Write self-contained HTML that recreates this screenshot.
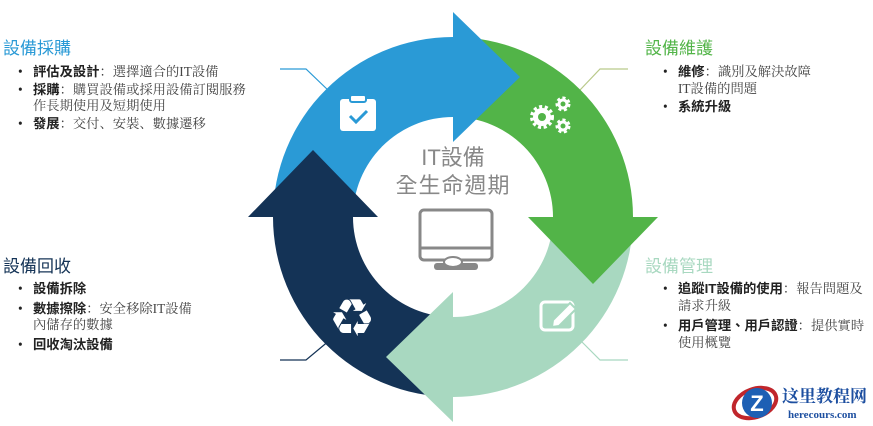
<!DOCTYPE html>
<html><head><meta charset="utf-8"><style>
body{margin:0;width:873px;height:426px;background:#fff;overflow:hidden;position:relative;font-family:"Liberation Serif","Noto Serif CJK SC","Noto Sans CJK TC",serif;}
.t{position:absolute;font-family:"Liberation Sans","Noto Sans CJK TC",sans-serif;font-size:17px;}
ul{position:absolute;margin:0;padding:0;list-style:none;font-size:13.3px;color:#444;line-height:16.5px;}
li{position:relative;padding-left:15px;margin-bottom:1px;}
li:before{content:"•";position:absolute;left:0;color:#222;}
b{font-family:"Liberation Sans","Noto Sans CJK TC",sans-serif;color:#222;}
</style></head><body>
<svg width="873" height="426" style="position:absolute;left:0;top:0">
<g fill="none" stroke-width="1.2">
<polyline points="280,69 306,69 330,92" stroke="#2a9ad6"/>
<polyline points="628,69 600,69 580,90" stroke="#b9c98a"/>
<polyline points="280,360 306,360 330,340" stroke="#143356"/>
<polyline points="628,360 600,360 580,340" stroke="#a8d8c0"/>
</g>
<path d="M273,217 A180,180 0 0 1 453,37 L453,117 A100,100 0 0 0 353,217 Z" fill="#2a9ad6"/>
<path d="M453,37 A180,180 0 0 1 633,217 L553,217 A100,100 0 0 0 453,117 Z" fill="#52b448"/>
<path d="M633,217 A180,180 0 0 1 453,397 L453,317 A100,100 0 0 0 553,217 Z" fill="#a8d8c0"/>
<path d="M453,397 A180,180 0 0 1 273,217 L353,217 A100,100 0 0 0 453,317 Z" fill="#143356"/>
<polygon points="453,12 453,142 520,77" fill="#2a9ad6"/>
<polygon points="658,217 528,217 593,284" fill="#52b448"/>
<polygon points="453,422 453,292 386,357" fill="#a8d8c0"/>
<polygon points="248,217 378,217 313,150" fill="#143356"/>
<g fill="none" stroke="#fff" stroke-width="3">
<rect x="340" y="99" width="36" height="32" rx="3" fill="#fff" stroke="none"/>
<rect x="350" y="95" width="16" height="7" rx="2" fill="#fff" stroke="#2a9ad6" stroke-width="2"/>
<polyline points="350,116 356,122 367,111" stroke="#2a9ad6"/>
<rect x="541" y="302" width="32" height="28" rx="4"/>
<path d="M553,320 L570,303 L576,309 L559,326 L552,327 Z" fill="#fff" stroke="#a8d8c0" stroke-width="2"/>
</g>
<g fill="none" stroke="#fff" stroke-dasharray="3 2.5">
<circle cx="542" cy="117" r="10" stroke-width="4"/><circle cx="563" cy="104" r="6" stroke-width="3"/><circle cx="563" cy="126" r="6" stroke-width="3"/>
</g>
<g fill="#fff"><circle cx="542" cy="117" r="9"/><circle cx="563" cy="104" r="5.5"/><circle cx="563" cy="126" r="5.5"/></g>
<g fill="#52b448"><circle cx="542" cy="117" r="4"/><circle cx="563" cy="104" r="2.5"/><circle cx="563" cy="126" r="2.5"/></g>
<text x="352" y="336" font-size="52" fill="#fff" text-anchor="middle" font-family="DejaVu Sans">♻</text>
<g stroke="#888" fill="none" stroke-width="3">
<rect x="420" y="210" width="72" height="50" rx="4"/>
<line x1="420" y1="248" x2="492" y2="248"/>
</g>
<rect x="434" y="263" width="44" height="7" rx="3" fill="#888"/>
<ellipse cx="453" cy="262" rx="9" ry="5" fill="#fff" stroke="#888" stroke-width="2"/>
<text x="453" y="165" font-size="22" fill="#888" text-anchor="middle" font-family="Liberation Sans,Noto Sans CJK TC,sans-serif">IT設備</text>
<text x="453" y="193" font-size="22" fill="#888" text-anchor="middle" font-family="Liberation Sans,Noto Sans CJK TC,sans-serif" letter-spacing="1">全生命週期</text>
<ellipse cx="755" cy="403" rx="22" ry="14" fill="none" stroke="#c0262c" stroke-width="4" transform="rotate(-20 755 403)"/>
<circle cx="757" cy="403" r="15" fill="#1d5fb4"/>
<text x="757" y="411" font-size="22" fill="#fff" text-anchor="middle" font-weight="bold" font-family="Liberation Sans">Z</text>
<text x="782" y="402" font-size="17" fill="#1d4fa0" font-weight="bold" font-family="Noto Serif CJK SC,serif">这里教程网</text>
<text x="788" y="418" font-size="11" fill="#1d4fa0" font-weight="bold" font-family="Liberation Serif">herecours.com</text>
</svg>
<div class="t" style="left:3px;top:34px;color:#2a9ad6">設備採購</div>
<ul style="left:18px;top:64px;width:260px">
<li><b>評估及設計</b>：選擇適合的IT設備</li>
<li><b>採購</b>：購買設備或採用設備訂閱服務<br>作長期使用及短期使用</li>
<li><b>發展</b>：交付、安裝、數據遷移</li>
</ul>
<div class="t" style="left:645px;top:34px;color:#52b448">設備維護</div>
<ul style="left:663px;top:64px;width:210px">
<li><b>維修</b>：識別及解決故障<br>IT設備的問題</li>
<li style="margin-top:2px"><b>系統升級</b></li>
</ul>
<div class="t" style="left:3px;top:252px;color:#143356">設備回收</div>
<ul style="left:18px;top:281px;width:250px">
<li><b>設備拆除</b></li>
<li style="margin-top:3px"><b>數據擦除</b>：安全移除IT設備<br>內儲存的數據</li>
<li style="margin-top:3px"><b>回收淘汰設備</b></li>
</ul>
<div class="t" style="left:645px;top:252px;color:#a8d8c0">設備管理</div>
<ul style="left:663px;top:281px;width:210px">
<li><b>追蹤IT設備的使用</b>：報告問題及<br>請求升級</li>
<li style="margin-top:4px"><b>用戶管理、用戶認證</b>：提供實時<br>使用概覽</li>
</ul>
</body></html>
